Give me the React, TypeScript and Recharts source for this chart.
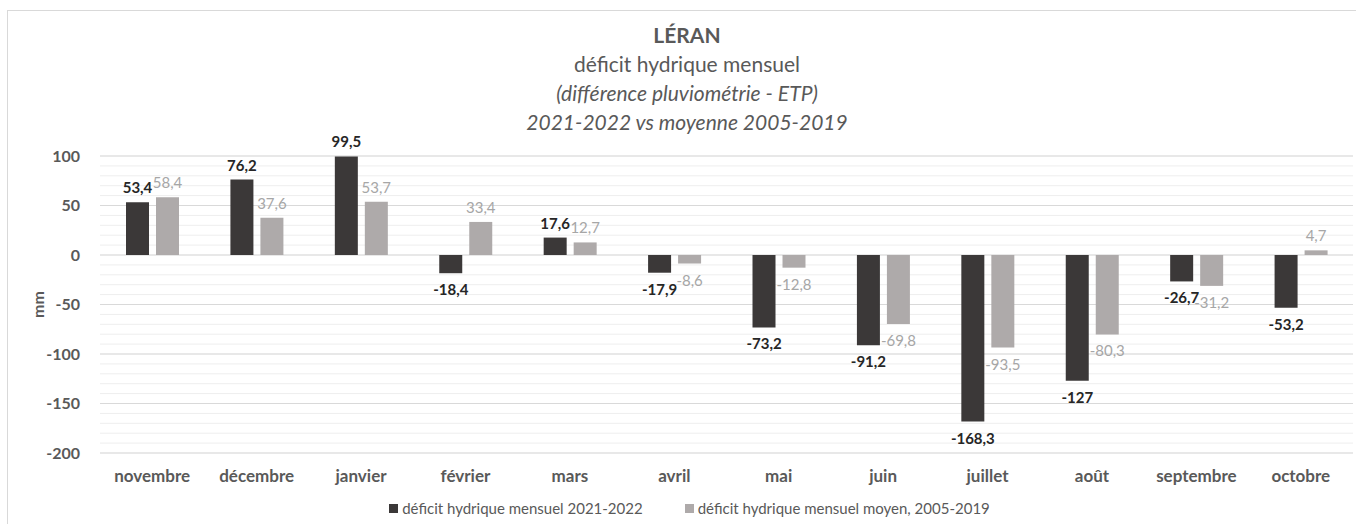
import React from "react";
import {
  Bar,
  BarChart,
  CartesianGrid,
  LabelList,
  Legend,
  XAxis,
  YAxis,
} from "recharts";

const months = [
  "novembre",
  "décembre",
  "janvier",
  "février",
  "mars",
  "avril",
  "mai",
  "juin",
  "juillet",
  "août",
  "septembre",
  "octobre",
];
const deficit2122 = [53.4, 76.2, 99.5, -18.4, 17.6, -17.9, -73.2, -91.2, -168.3, -127, -26.7, -53.2];
const deficitMoyen = [58.4, 37.6, 53.7, 33.4, 12.7, -8.6, -12.8, -69.8, -93.5, -80.3, -31.2, 4.7];
const yTicks = [-200, -150, -100, -50, 0, 50, 100];
// minor gridlines every 10 mm
const minorTicks = Array.from({ length: 31 }, (_, i) => -200 + i * 10);

const DARK = "#3b3838";
const LIGHT = "#aeaaaa";
const TEXT = "#595959";
const FONT = "Lato, 'Open Sans', sans-serif";

const data = months.map((m, i) => ({
  month: m,
  a: deficit2122[i],
  b: deficitMoyen[i],
}));

const fmt = (v: number) => String(v).replace(".", ",");

const barLabel = (color: string, weight: number) => (props: any) => {
  const { x, y, width, height, value } = props;
  const top = Math.min(Number(y), Number(y) + Number(height));
  const bottom = Math.max(Number(y), Number(y) + Number(height));
  const ty = value >= 0 ? top - 9 : bottom + 22;
  return (
    <text
      x={Number(x) + Number(width) / 2}
      y={ty}
      textAnchor="middle"
      fill={color}
      fontWeight={weight}
      fontSize={15}
      fontFamily={FONT}
    >
      {fmt(value)}
    </text>
  );
};

const titleLines: { text: string; bold?: boolean; italic?: boolean }[] = [
  { text: "LÉRAN", bold: true },
  { text: "déficit hydrique mensuel" },
  { text: "(différence pluviométrie - ETP)", italic: true },
  { text: "2021-2022 vs moyenne 2005-2019", italic: true },
];

const renderLegend = (props: any) => {
  const items = props.payload || [];
  return (
    <div
      style={{
        display: "flex",
        justifyContent: "center",
        gap: 42,
        fontSize: 15,
        color: TEXT,
        fontFamily: FONT,
        lineHeight: "20px",
        paddingLeft: 18,
      }}
    >
      {items.map((it: any) => (
        <div key={it.value} style={{ display: "flex", alignItems: "center" }}>
          <span
            style={{
              display: "inline-block",
              width: 9,
              height: 9,
              background: it.color,
              marginRight: 4,
            }}
          />
          {it.value}
        </div>
      ))}
    </div>
  );
};

export default function App() {
  return (
    <div
      style={{
        position: "absolute",
        left: 7,
        top: 10,
        borderLeft: "1px solid #d9d9d9",
        borderTop: "1px solid #d9d9d9",
        width: 1349,
        height: 514,
        fontFamily: FONT,
        background: "#fff",
      }}
    >
      <div
        style={{
          position: "absolute",
          left: 279,
          top: 9,
          width: 800,
          textAlign: "center",
          color: TEXT,
          fontSize: 21,
          lineHeight: "29px",
        }}
      >
        {titleLines.map((l) => (
          <div
            key={l.text}
            style={{
              fontWeight: l.bold ? 700 : 400,
              fontStyle: l.italic ? "italic" : "normal",
            }}
          >
            {l.text}
          </div>
        ))}
      </div>
      <BarChart
        width={1348}
        height={513}
        data={data}
        margin={{ top: 145, right: 3, left: 0, bottom: 6 }}
        barSize={23}
        barGap={7}
      >
        <CartesianGrid vertical={false} horizontalValues={minorTicks} stroke="#eeeeee" />
        <CartesianGrid vertical={false} stroke="#d9d9d9" />
        <XAxis
          dataKey="month"
          axisLine={false}
          tickLine={false}
          tickMargin={11}
          height={45}
          interval={0}
          tick={{ fill: TEXT, fontSize: 17, fontWeight: 700, fontFamily: FONT }}
        />
        <YAxis
          width={92}
          domain={[-200, 100]}
          ticks={yTicks}
          interval={0}
          axisLine={false}
          tickLine={false}
          tickMargin={14}
          tick={{ fill: TEXT, fontSize: 16, fontWeight: 700, fontFamily: FONT }}
          label={(p: any) => (
            <text
              x={29}
              y={p.viewBox.y + p.viewBox.height / 2}
              transform={`rotate(-90 29 ${p.viewBox.y + p.viewBox.height / 2})`}
              textAnchor="middle"
              dominantBaseline="central"
              fill={TEXT}
              fontSize={16}
              fontWeight={700}
              fontFamily={FONT}
            >
              mm
            </text>
          )}
        />
        <Legend verticalAlign="bottom" content={renderLegend} />
        <Bar
          dataKey="a"
          name="déficit hydrique mensuel 2021-2022"
          fill={DARK}
          isAnimationActive={false}
        >
          <LabelList dataKey="a" content={barLabel("#262626", 700)} />
        </Bar>
        <Bar
          dataKey="b"
          name="déficit hydrique mensuel moyen, 2005-2019"
          fill={LIGHT}
          isAnimationActive={false}
        >
          <LabelList dataKey="b" content={barLabel("#a6a6a6", 400)} />
        </Bar>
      </BarChart>
    </div>
  );
}
